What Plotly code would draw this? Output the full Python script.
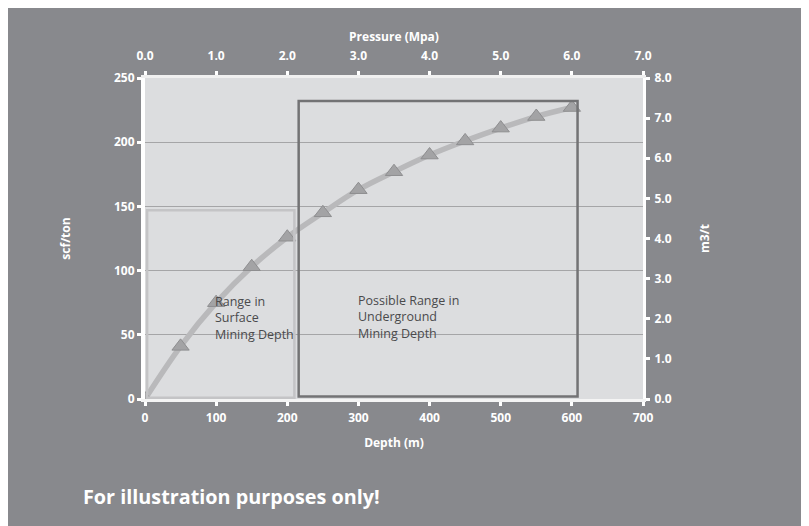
import plotly.graph_objects as go

# ---- data ----
depth_m = [0, 50, 100, 150, 200, 250, 300, 350, 400, 450, 500, 550, 600]
content_scf_ton = [0, 41, 75, 103, 126, 145, 163, 177, 190, 201, 211, 220, 227]

depth_ticks = [0, 100, 200, 300, 400, 500, 600, 700]
pressure_ticks = [0, 1, 2, 3, 4, 5, 6, 7]
scf_ticks = [0, 50, 100, 150, 200, 250]
m3t_ticks = [0, 1, 2, 3, 4, 5, 6, 7, 8]

surface_box = dict(x=[3, 210], y=[1, 147])
underground_box = dict(x=[216, 608], y=[2, 232])
surface_label = "Range in<br>Surface<br>Mining Depth"
underground_label = "Possible Range in<br>Underground<br>Mining Depth"

BG = "#88898d"
PLOT_BG = "#dcdddf"
FONT = "Open Sans"

ML, MR, MT, MB = 137, 174, 70, 135
PW, PH = 809 - ML - MR, 526 - MT - MB

fig = go.Figure()

fig.add_trace(go.Scatter(
    x=depth_m, y=content_scf_ton, mode="lines+markers",
    line=dict(color="#b9b9bb", width=5.5, shape="spline"),
    marker=dict(symbol="triangle-up", size=15, color="#a3a3a5",
                line=dict(color="#8e8e90", width=1)),
    showlegend=False, hoverinfo="skip",
))
# invisible helper traces so secondary axes render
fig.add_trace(go.Scatter(x=[0, 7], y=[0, 0], xaxis="x2", yaxis="y",
                         mode="markers", marker=dict(opacity=0), showlegend=False, hoverinfo="skip"))
fig.add_trace(go.Scatter(x=[0, 0], y=[0, 8], xaxis="x", yaxis="y2",
                         mode="markers", marker=dict(opacity=0), showlegend=False, hoverinfo="skip"))

tickfont = dict(family=FONT, size=12, color="white", weight="bold")
titlefont = dict(family=FONT, size=12, color="white", weight="bold")

fig.update_layout(
    width=809, height=526,
    paper_bgcolor=BG, plot_bgcolor=PLOT_BG,
    margin=dict(l=ML, r=MR, t=MT, b=MB, autoexpand=False),
    font=dict(family=FONT, color="white"),
    xaxis=dict(
        range=[0, 700], tickvals=depth_ticks, ticks="outside", ticklen=4, tickwidth=3,
        tickcolor="white", showline=True, linecolor="#f4f4f4", linewidth=3,
        showgrid=False, zeroline=False, tickfont=tickfont, automargin=False,
        ticklabelstandoff=2,
        title=dict(text="Depth (m)", font=titlefont, standoff=14),
    ),
    xaxis2=dict(
        range=[0, 7], tickvals=pressure_ticks, ticktext=[f"{v:.1f}" for v in pressure_ticks],
        overlaying="x", side="top", ticks="outside", ticklen=4, tickwidth=3,
        tickcolor="white", showline=True, linecolor="#f0f0f0", linewidth=3,
        showgrid=False, zeroline=False, tickfont=tickfont, automargin=False,
        ticklabelstandoff=6,
        title=dict(text="Pressure (Mpa)", font=titlefont, standoff=4),
    ),
    yaxis=dict(
        range=[0, 250], tickvals=scf_ticks, ticks="outside", ticklen=4, tickwidth=3,
        tickcolor="white", showline=True, linecolor="white", linewidth=4,
        showgrid=True, gridcolor="#a5a5a7", gridwidth=1, zeroline=False,
        tickfont=tickfont, automargin=False,
        title=dict(text="scf/ton", font=titlefont, standoff=42),
    ),
    yaxis2=dict(
        range=[0, 8], tickvals=m3t_ticks, ticktext=[f"{v:.1f}" for v in m3t_ticks],
        overlaying="y", side="right", ticks="outside", ticklen=4, tickwidth=3,
        tickcolor="white", showline=True, linecolor="white", linewidth=3,
        showgrid=False, zeroline=False, tickfont=tickfont, automargin=False,
        ticklabelstandoff=2,
        title=dict(text="m3/t", font=titlefont, standoff=30),
    ),
    shapes=[
        dict(type="rect", xref="x", yref="y",
             x0=surface_box["x"][0], x1=surface_box["x"][1],
             y0=surface_box["y"][0], y1=surface_box["y"][1],
             line=dict(color="#c4c4c6", width=2.5), fillcolor="rgba(0,0,0,0)"),
        dict(type="rect", xref="x", yref="y",
             x0=underground_box["x"][0], x1=underground_box["x"][1],
             y0=underground_box["y"][0], y1=underground_box["y"][1],
             line=dict(color="#737375", width=2.5), fillcolor="rgba(0,0,0,0)"),
    ],
    annotations=[
        dict(x=95, y=84, xref="x", yref="y", text=surface_label, showarrow=False,
             xanchor="left", yanchor="top", align="left",
             font=dict(family=FONT, size=12.5, color="#4a4a4c")),
        dict(x=296, y=85, xref="x", yref="y", text=underground_label, showarrow=False,
             xanchor="left", yanchor="top", align="left",
             font=dict(family=FONT, size=12.5, color="#4a4a4c")),
        dict(x=(73 - ML) / PW, y=(MT + PH - 488) / PH, xref="paper", yref="paper",
             text="For illustration purposes only!",
             showarrow=False, xanchor="left", yanchor="middle",
             font=dict(family=FONT, size=19.8, color="white", weight="bold")),
    ],
)

fig.write_html("out.html")
